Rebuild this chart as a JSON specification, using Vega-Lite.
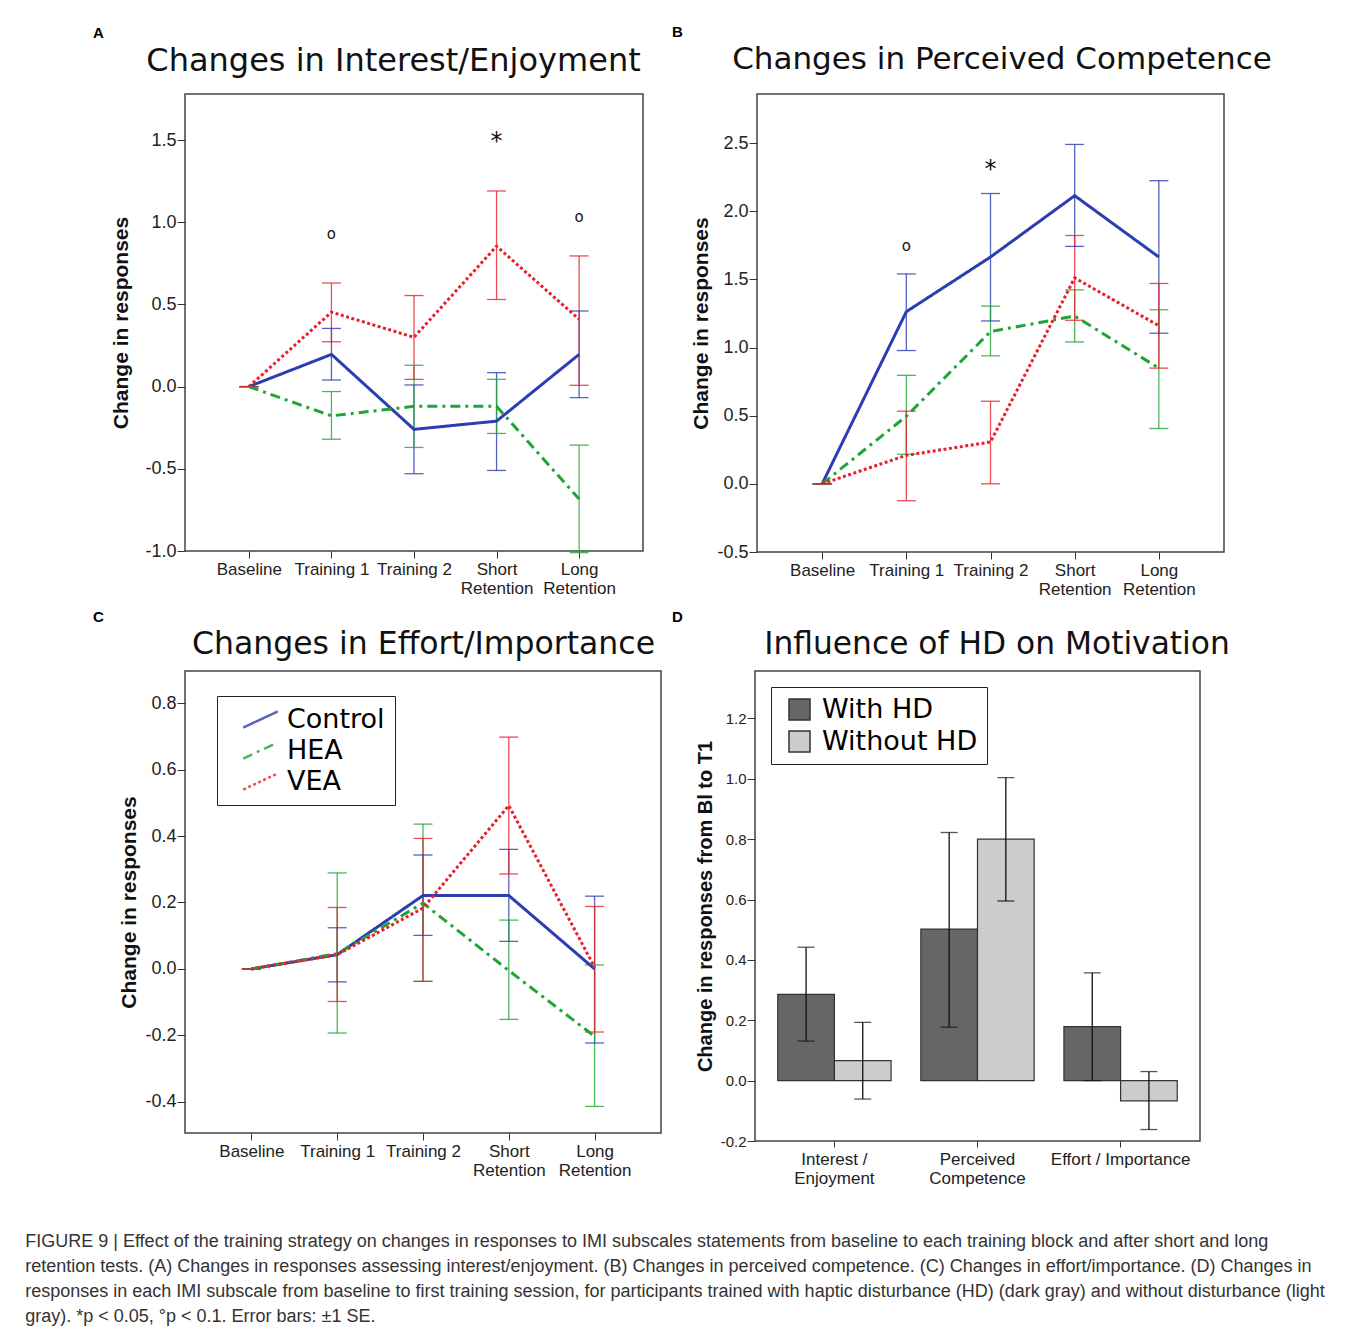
{
  "$schema": "https://vega.github.io/schema/vega-lite/v6.json",
  "background": "white",
  "padding": {"left": 25, "top": 24, "right": 10, "bottom": 10},
  "autosize": {"type": "pad"},
  "datasets": {
    "A": [
      {"stage": "Baseline", "i": 0, "group": "Control", "v": 0, "lo": 0, "hi": 0},
      {"stage": "Training 1", "i": 1, "group": "Control", "v": 0.196, "lo": 0.04, "hi": 0.354},
      {"stage": "Training 2", "i": 2, "group": "Control", "v": -0.26, "lo": -0.53, "hi": 0.01},
      {"stage": "Short Retention", "i": 3, "group": "Control", "v": -0.21, "lo": -0.51, "hi": 0.085},
      {"stage": "Long Retention", "i": 4, "group": "Control", "v": 0.196, "lo": -0.067, "hi": 0.46},
      {"stage": "Baseline", "i": 0, "group": "HEA", "v": 0, "lo": 0, "hi": 0},
      {"stage": "Training 1", "i": 1, "group": "HEA", "v": -0.178, "lo": -0.32, "hi": -0.03},
      {"stage": "Training 2", "i": 2, "group": "HEA", "v": -0.12, "lo": -0.37, "hi": 0.13},
      {"stage": "Short Retention", "i": 3, "group": "HEA", "v": -0.12, "lo": -0.285, "hi": 0.044},
      {"stage": "Long Retention", "i": 4, "group": "HEA", "v": -0.684, "lo": -1.01, "hi": -0.356},
      {"stage": "Baseline", "i": 0, "group": "VEA", "v": 0, "lo": 0, "hi": 0},
      {"stage": "Training 1", "i": 1, "group": "VEA", "v": 0.453, "lo": 0.273, "hi": 0.63},
      {"stage": "Training 2", "i": 2, "group": "VEA", "v": 0.30, "lo": 0.044, "hi": 0.554},
      {"stage": "Short Retention", "i": 3, "group": "VEA", "v": 0.854, "lo": 0.53, "hi": 1.19},
      {"stage": "Long Retention", "i": 4, "group": "VEA", "v": 0.41, "lo": 0.008, "hi": 0.795}
    ],
    "Aann": [
      {"stage": "Training 1", "y": 0.928, "sym": "o"},
      {"stage": "Short Retention", "y": 1.49, "sym": "*"},
      {"stage": "Long Retention", "y": 1.03, "sym": "o"}
    ],
    "B": [
      {"stage": "Baseline", "i": 0, "group": "Control", "v": 0, "lo": 0, "hi": 0},
      {"stage": "Training 1", "i": 1, "group": "Control", "v": 1.263, "lo": 0.978, "hi": 1.54},
      {"stage": "Training 2", "i": 2, "group": "Control", "v": 1.664, "lo": 1.195, "hi": 2.13},
      {"stage": "Short Retention", "i": 3, "group": "Control", "v": 2.114, "lo": 1.742, "hi": 2.49},
      {"stage": "Long Retention", "i": 4, "group": "Control", "v": 1.664, "lo": 1.105, "hi": 2.224},
      {"stage": "Baseline", "i": 0, "group": "HEA", "v": 0, "lo": 0, "hi": 0},
      {"stage": "Training 1", "i": 1, "group": "HEA", "v": 0.496, "lo": 0.217, "hi": 0.796},
      {"stage": "Training 2", "i": 2, "group": "HEA", "v": 1.117, "lo": 0.939, "hi": 1.304},
      {"stage": "Short Retention", "i": 3, "group": "HEA", "v": 1.231, "lo": 1.041, "hi": 1.423},
      {"stage": "Long Retention", "i": 4, "group": "HEA", "v": 0.849, "lo": 0.406, "hi": 1.277},
      {"stage": "Baseline", "i": 0, "group": "VEA", "v": 0, "lo": 0, "hi": 0},
      {"stage": "Training 1", "i": 1, "group": "VEA", "v": 0.209, "lo": -0.124, "hi": 0.533},
      {"stage": "Training 2", "i": 2, "group": "VEA", "v": 0.307, "lo": 0, "hi": 0.606},
      {"stage": "Short Retention", "i": 3, "group": "VEA", "v": 1.511, "lo": 1.2, "hi": 1.822},
      {"stage": "Long Retention", "i": 4, "group": "VEA", "v": 1.16, "lo": 0.849, "hi": 1.47}
    ],
    "Bann": [
      {"stage": "Training 1", "y": 1.745, "sym": "o"},
      {"stage": "Training 2", "y": 2.30, "sym": "*"}
    ],
    "C": [
      {"stage": "Baseline", "i": 0, "group": "Control", "v": 0, "lo": 0, "hi": 0},
      {"stage": "Training 1", "i": 1, "group": "Control", "v": 0.043, "lo": -0.039, "hi": 0.124},
      {"stage": "Training 2", "i": 2, "group": "Control", "v": 0.221, "lo": 0.101, "hi": 0.343},
      {"stage": "Short Retention", "i": 3, "group": "Control", "v": 0.221, "lo": 0.083, "hi": 0.36},
      {"stage": "Long Retention", "i": 4, "group": "Control", "v": 0, "lo": -0.223, "hi": 0.219},
      {"stage": "Baseline", "i": 0, "group": "HEA", "v": 0, "lo": 0, "hi": 0},
      {"stage": "Training 1", "i": 1, "group": "HEA", "v": 0.046, "lo": -0.193, "hi": 0.289},
      {"stage": "Training 2", "i": 2, "group": "HEA", "v": 0.198, "lo": -0.0375, "hi": 0.436},
      {"stage": "Short Retention", "i": 3, "group": "HEA", "v": -0.005, "lo": -0.152, "hi": 0.147},
      {"stage": "Long Retention", "i": 4, "group": "HEA", "v": -0.203, "lo": -0.414, "hi": 0.012},
      {"stage": "Baseline", "i": 0, "group": "VEA", "v": 0, "lo": 0, "hi": 0},
      {"stage": "Training 1", "i": 1, "group": "VEA", "v": 0.043, "lo": -0.098, "hi": 0.185},
      {"stage": "Training 2", "i": 2, "group": "VEA", "v": 0.183, "lo": -0.0375, "hi": 0.393},
      {"stage": "Short Retention", "i": 3, "group": "VEA", "v": 0.492, "lo": 0.286, "hi": 0.698},
      {"stage": "Long Retention", "i": 4, "group": "VEA", "v": 0.005, "lo": -0.19, "hi": 0.188}
    ],
    "D": [
      {"cat": "Interest / Enjoyment", "hd": "With HD", "v": 0.286, "lo": 0.131, "hi": 0.442},
      {"cat": "Interest / Enjoyment", "hd": "Without HD", "v": 0.066, "lo": -0.061, "hi": 0.193},
      {"cat": "Perceived Competence", "hd": "With HD", "v": 0.502, "lo": 0.177, "hi": 0.822},
      {"cat": "Perceived Competence", "hd": "Without HD", "v": 0.80, "lo": 0.595, "hi": 1.004},
      {"cat": "Effort / Importance", "hd": "With HD", "v": 0.179, "lo": 0.0, "hi": 0.357},
      {"cat": "Effort / Importance", "hd": "Without HD", "v": -0.067, "lo": -0.162, "hi": 0.03}
    ]
  },
  "title": {
    "text": [
      "FIGURE 9 | Effect of the training strategy on changes in responses to IMI subscales statements from baseline to each training block and after short and long",
      "retention tests. (A) Changes in responses assessing interest/enjoyment. (B) Changes in perceived competence. (C) Changes in effort/importance. (D) Changes in",
      "responses in each IMI subscale from baseline to first training session, for participants trained with haptic disturbance (HD) (dark gray) and without disturbance (light",
      "gray). *p < 0.05, °p < 0.1. Error bars: ±1 SE."
    ],
    "orient": "bottom", "anchor": "start", "frame": "bounds", "dx": -67, "offset": 46,
    "font": "Liberation Sans", "fontSize": 18, "fontWeight": "normal", "color": "#333", "lineHeight": 25
  },
  "spacing": 11,
  "align": "none",
  "resolve": {"scale": {"color": "independent", "strokeDash": "independent", "fill": "independent", "size": "independent"}},
  "vconcat": [
    {
      "bounds": "full", "align": "none", "spacing": 27,
      "resolve": {"scale": {"color": "independent", "strokeDash": "independent", "fill": "independent", "size": "independent"}},
      "hconcat": [
        {
          "width": 458, "height": 457,
          "title": {"text": "A", "anchor": "start", "frame": "group", "dx": -92, "fontSize": 15, "fontWeight": "bold", "offset": 3, "color": "#000"},
          "resolve": {"axis": {"x": "independent"}},
          "layer": [
            {
              "data": {"name": "A"},
              "mark": {"type": "rule", "strokeWidth": 1.3, "opacity": 0.8},
              "encoding": {
                "x": {"field": "stage", "type": "ordinal", "scale": {"type": "point", "domain": ["Baseline", "Training 1", "Training 2", "Short Retention", "Long Retention"], "padding": 0.774}, "axis": null},
                "y": {"field": "lo", "type": "quantitative", "scale": {"domain": [-1.0, 1.78], "nice": false, "zero": false},
                  "axis": {"title": "Change in responses", "titleFontSize": 21, "titleFontWeight": "bold", "titlePadding": 13, "values": [-1, -0.5, 0, 0.5, 1, 1.5], "format": ".1f", "labelFontSize": 18, "labelPadding": 1, "tickSize": 8}},
                "y2": {"field": "hi"},
                "color": {"field": "group", "type": "nominal", "scale": {"domain": ["Control", "HEA", "VEA"], "range": ["#2c3db2", "#1fa533", "#e8202a"]}, "legend": null}
              }
            },
            {
              "data": {"name": "A"},
              "mark": {"type": "tick", "orient": "horizontal", "size": 19, "thickness": 1.3, "opacity": 0.8},
              "encoding": {
                "x": {"field": "stage", "type": "ordinal", "scale": {"type": "point", "domain": ["Baseline", "Training 1", "Training 2", "Short Retention", "Long Retention"], "padding": 0.774}, "axis": null},
                "y": {"field": "lo", "type": "quantitative", "scale": {"domain": [-1.0, 1.78], "nice": false, "zero": false},
                  "axis": {"title": "Change in responses", "titleFontSize": 21, "titleFontWeight": "bold", "titlePadding": 13, "values": [-1, -0.5, 0, 0.5, 1, 1.5], "format": ".1f", "labelFontSize": 18, "labelPadding": 1, "tickSize": 8}},
                "color": {"field": "group", "type": "nominal", "scale": {"domain": ["Control", "HEA", "VEA"], "range": ["#2c3db2", "#1fa533", "#e8202a"]}, "legend": null}
              }
            },
            {
              "data": {"name": "A"},
              "mark": {"type": "tick", "orient": "horizontal", "size": 19, "thickness": 1.3, "opacity": 0.8},
              "encoding": {
                "x": {"field": "stage", "type": "ordinal", "scale": {"type": "point", "domain": ["Baseline", "Training 1", "Training 2", "Short Retention", "Long Retention"], "padding": 0.774}, "axis": null},
                "y": {"field": "hi", "type": "quantitative", "scale": {"domain": [-1.0, 1.78], "nice": false, "zero": false},
                  "axis": {"title": "Change in responses", "titleFontSize": 21, "titleFontWeight": "bold", "titlePadding": 13, "values": [-1, -0.5, 0, 0.5, 1, 1.5], "format": ".1f", "labelFontSize": 18, "labelPadding": 1, "tickSize": 8}},
                "color": {"field": "group", "type": "nominal", "scale": {"domain": ["Control", "HEA", "VEA"], "range": ["#2c3db2", "#1fa533", "#e8202a"]}, "legend": null}
              }
            },
            {
              "data": {"name": "A"},
              "mark": {"type": "line", "strokeWidth": 3},
              "encoding": {
                "x": {"field": "stage", "type": "ordinal", "scale": {"type": "point", "domain": ["Baseline", "Training 1", "Training 2", "Short Retention", "Long Retention"], "padding": 0.774},
                  "axis": {"orient": "bottom", "title": null, "labelAngle": 0, "labelFontSize": 17, "labelPadding": 3, "tickSize": 7, "labelLineHeight": 19,
                    "labelExpr": "datum.value == 'Short Retention' ? ['Short', 'Retention'] : datum.value == 'Long Retention' ? ['Long', 'Retention'] : datum.value"}},
                "y": {"field": "v", "type": "quantitative", "scale": {"domain": [-1.0, 1.78], "nice": false, "zero": false},
                  "axis": {"title": "Change in responses", "titleFontSize": 21, "titleFontWeight": "bold", "titlePadding": 13, "values": [-1, -0.5, 0, 0.5, 1, 1.5], "format": ".1f", "labelFontSize": 18, "labelPadding": 1, "tickSize": 8}},
                "color": {"field": "group", "type": "nominal", "scale": {"domain": ["Control", "HEA", "VEA"], "range": ["#2c3db2", "#1fa533", "#e8202a"]}, "legend": null},
                "strokeDash": {"field": "group", "type": "nominal", "scale": {"domain": ["Control", "HEA", "VEA"], "range": [[1, 0], [10, 5, 3, 5], [3, 2.5]]}, "legend": null},
                "order": {"field": "i"}
              }
            },
            {
              "data": {"name": "Aann"},
              "mark": {"type": "text", "font": "DejaVu Sans", "color": "#111", "baseline": "middle"},
              "encoding": {
                "x": {"field": "stage", "type": "ordinal", "scale": {"type": "point", "domain": ["Baseline", "Training 1", "Training 2", "Short Retention", "Long Retention"], "padding": 0.774},
                  "axis": {"orient": "top", "labels": false, "ticks": false, "domain": false, "title": "Changes in Interest/Enjoyment", "titleFont": "DejaVu Sans", "titleFontSize": 32, "titleFontWeight": "normal", "titlePadding": 17, "titleColor": "#111", "titleX": 208}},
                "y": {"field": "y", "type": "quantitative", "scale": {"domain": [-1.0, 1.78], "nice": false, "zero": false},
                  "axis": {"title": "Change in responses", "titleFontSize": 21, "titleFontWeight": "bold", "titlePadding": 13, "values": [-1, -0.5, 0, 0.5, 1, 1.5], "format": ".1f", "labelFontSize": 18, "labelPadding": 1, "tickSize": 8}},
                "text": {"field": "sym"},
                "size": {"field": "sym", "type": "ordinal", "scale": {"domain": ["o", "*"], "range": [15, 24]}, "legend": null}
              }
            }
          ]
        },
        {
          "width": 467, "height": 458,
          "title": {"text": "B", "anchor": "start", "frame": "group", "dx": -85, "fontSize": 15, "fontWeight": "bold", "offset": 3, "color": "#000"},
          "resolve": {"axis": {"x": "independent"}},
          "layer": [
            {
              "data": {"name": "B"},
              "mark": {"type": "rule", "strokeWidth": 1.3, "opacity": 0.8},
              "encoding": {
                "x": {"field": "stage", "type": "ordinal", "scale": {"type": "point", "domain": ["Baseline", "Training 1", "Training 2", "Short Retention", "Long Retention"], "padding": 0.774}, "axis": null},
                "y": {"field": "lo", "type": "quantitative", "scale": {"domain": [-0.5, 2.86], "nice": false, "zero": false},
                  "axis": {"title": "Change in responses", "titleFontSize": 21, "titleFontWeight": "bold", "titlePadding": 5, "values": [-0.5, 0, 0.5, 1, 1.5, 2, 2.5], "format": ".1f", "labelFontSize": 18, "labelPadding": 1, "tickSize": 8}},
                "y2": {"field": "hi"},
                "color": {"field": "group", "type": "nominal", "scale": {"domain": ["Control", "HEA", "VEA"], "range": ["#2c3db2", "#1fa533", "#e8202a"]}, "legend": null}
              }
            },
            {
              "data": {"name": "B"},
              "mark": {"type": "tick", "orient": "horizontal", "size": 19, "thickness": 1.3, "opacity": 0.8},
              "encoding": {
                "x": {"field": "stage", "type": "ordinal", "scale": {"type": "point", "domain": ["Baseline", "Training 1", "Training 2", "Short Retention", "Long Retention"], "padding": 0.774}, "axis": null},
                "y": {"field": "lo", "type": "quantitative", "scale": {"domain": [-0.5, 2.86], "nice": false, "zero": false},
                  "axis": {"title": "Change in responses", "titleFontSize": 21, "titleFontWeight": "bold", "titlePadding": 5, "values": [-0.5, 0, 0.5, 1, 1.5, 2, 2.5], "format": ".1f", "labelFontSize": 18, "labelPadding": 1, "tickSize": 8}},
                "color": {"field": "group", "type": "nominal", "scale": {"domain": ["Control", "HEA", "VEA"], "range": ["#2c3db2", "#1fa533", "#e8202a"]}, "legend": null}
              }
            },
            {
              "data": {"name": "B"},
              "mark": {"type": "tick", "orient": "horizontal", "size": 19, "thickness": 1.3, "opacity": 0.8},
              "encoding": {
                "x": {"field": "stage", "type": "ordinal", "scale": {"type": "point", "domain": ["Baseline", "Training 1", "Training 2", "Short Retention", "Long Retention"], "padding": 0.774}, "axis": null},
                "y": {"field": "hi", "type": "quantitative", "scale": {"domain": [-0.5, 2.86], "nice": false, "zero": false},
                  "axis": {"title": "Change in responses", "titleFontSize": 21, "titleFontWeight": "bold", "titlePadding": 5, "values": [-0.5, 0, 0.5, 1, 1.5, 2, 2.5], "format": ".1f", "labelFontSize": 18, "labelPadding": 1, "tickSize": 8}},
                "color": {"field": "group", "type": "nominal", "scale": {"domain": ["Control", "HEA", "VEA"], "range": ["#2c3db2", "#1fa533", "#e8202a"]}, "legend": null}
              }
            },
            {
              "data": {"name": "B"},
              "mark": {"type": "line", "strokeWidth": 3},
              "encoding": {
                "x": {"field": "stage", "type": "ordinal", "scale": {"type": "point", "domain": ["Baseline", "Training 1", "Training 2", "Short Retention", "Long Retention"], "padding": 0.774},
                  "axis": {"orient": "bottom", "title": null, "labelAngle": 0, "labelFontSize": 17, "labelPadding": 3, "tickSize": 7, "labelLineHeight": 19,
                    "labelExpr": "datum.value == 'Short Retention' ? ['Short', 'Retention'] : datum.value == 'Long Retention' ? ['Long', 'Retention'] : datum.value"}},
                "y": {"field": "v", "type": "quantitative", "scale": {"domain": [-0.5, 2.86], "nice": false, "zero": false},
                  "axis": {"title": "Change in responses", "titleFontSize": 21, "titleFontWeight": "bold", "titlePadding": 5, "values": [-0.5, 0, 0.5, 1, 1.5, 2, 2.5], "format": ".1f", "labelFontSize": 18, "labelPadding": 1, "tickSize": 8}},
                "color": {"field": "group", "type": "nominal", "scale": {"domain": ["Control", "HEA", "VEA"], "range": ["#2c3db2", "#1fa533", "#e8202a"]}, "legend": null},
                "strokeDash": {"field": "group", "type": "nominal", "scale": {"domain": ["Control", "HEA", "VEA"], "range": [[1, 0], [10, 5, 3, 5], [3, 2.5]]}, "legend": null},
                "order": {"field": "i"}
              }
            },
            {
              "data": {"name": "Bann"},
              "mark": {"type": "text", "font": "DejaVu Sans", "color": "#111", "baseline": "middle"},
              "encoding": {
                "x": {"field": "stage", "type": "ordinal", "scale": {"type": "point", "domain": ["Baseline", "Training 1", "Training 2", "Short Retention", "Long Retention"], "padding": 0.774},
                  "axis": {"orient": "top", "labels": false, "ticks": false, "domain": false, "title": "Changes in Perceived Competence", "titleFont": "DejaVu Sans", "titleFontSize": 31, "titleFontWeight": "normal", "titlePadding": 19, "titleColor": "#111", "titleX": 244.5}},
                "y": {"field": "y", "type": "quantitative", "scale": {"domain": [-0.5, 2.86], "nice": false, "zero": false},
                  "axis": {"title": "Change in responses", "titleFontSize": 21, "titleFontWeight": "bold", "titlePadding": 5, "values": [-0.5, 0, 0.5, 1, 1.5, 2, 2.5], "format": ".1f", "labelFontSize": 18, "labelPadding": 1, "tickSize": 8}},
                "text": {"field": "sym"},
                "size": {"field": "sym", "type": "ordinal", "scale": {"domain": ["o", "*"], "range": [15, 24]}, "legend": null}
              }
            }
          ]
        }
      ]
    },
    {
      "bounds": "full", "align": "none", "spacing": 9,
      "resolve": {"scale": {"color": "independent", "strokeDash": "independent", "fill": "independent", "size": "independent"}},
      "hconcat": [
        {
          "width": 476, "height": 462,
          "title": {"text": "C", "anchor": "start", "frame": "group", "dx": -92, "fontSize": 15, "fontWeight": "bold", "offset": 3, "color": "#000"},
          "resolve": {"axis": {"x": "independent"}},
          "layer": [
            {
              "data": {"name": "C"},
              "mark": {"type": "rule", "strokeWidth": 1.3, "opacity": 0.8},
              "encoding": {
                "x": {"field": "stage", "type": "ordinal", "scale": {"type": "point", "domain": ["Baseline", "Training 1", "Training 2", "Short Retention", "Long Retention"], "padding": 0.774}, "axis": null},
                "y": {"field": "lo", "type": "quantitative", "scale": {"domain": [-0.494, 0.897], "nice": false, "zero": false},
                  "axis": {"title": "Change in responses", "titleFontSize": 21, "titleFontWeight": "bold", "titlePadding": 5, "values": [-0.4, -0.2, 0, 0.2, 0.4, 0.6, 0.8], "format": ".1f", "labelFontSize": 18, "labelPadding": 1, "tickSize": 8}},
                "y2": {"field": "hi"},
                "color": {"field": "group", "type": "nominal", "scale": {"domain": ["Control", "HEA", "VEA"], "range": ["#2c3db2", "#1fa533", "#e8202a"]},
                  "legend": {"orient": "none", "legendX": 32, "legendY": 25, "title": null, "strokeColor": "#222", "padding": 10, "fillColor": "white",
                    "symbolType": "M-1.5,0.7L1.5,-0.7", "symbolSize": 529, "symbolStrokeWidth": 2.5, "symbolOffset": 20, "labelOffset": 13,
                    "labelFont": "DejaVu Sans", "labelFontSize": 27, "labelColor": "#000", "rowPadding": 3}}
              }
            },
            {
              "data": {"name": "C"},
              "mark": {"type": "tick", "orient": "horizontal", "size": 19, "thickness": 1.3, "opacity": 0.8},
              "encoding": {
                "x": {"field": "stage", "type": "ordinal", "scale": {"type": "point", "domain": ["Baseline", "Training 1", "Training 2", "Short Retention", "Long Retention"], "padding": 0.774}, "axis": null},
                "y": {"field": "lo", "type": "quantitative", "scale": {"domain": [-0.494, 0.897], "nice": false, "zero": false},
                  "axis": {"title": "Change in responses", "titleFontSize": 21, "titleFontWeight": "bold", "titlePadding": 5, "values": [-0.4, -0.2, 0, 0.2, 0.4, 0.6, 0.8], "format": ".1f", "labelFontSize": 18, "labelPadding": 1, "tickSize": 8}},
                "color": {"field": "group", "type": "nominal", "scale": {"domain": ["Control", "HEA", "VEA"], "range": ["#2c3db2", "#1fa533", "#e8202a"]},
                  "legend": {"orient": "none", "legendX": 32, "legendY": 25, "title": null, "strokeColor": "#222", "padding": 10, "fillColor": "white",
                    "symbolType": "M-1.5,0.7L1.5,-0.7", "symbolSize": 529, "symbolStrokeWidth": 2.5, "symbolOffset": 20, "labelOffset": 13,
                    "labelFont": "DejaVu Sans", "labelFontSize": 27, "labelColor": "#000", "rowPadding": 3}}
              }
            },
            {
              "data": {"name": "C"},
              "mark": {"type": "tick", "orient": "horizontal", "size": 19, "thickness": 1.3, "opacity": 0.8},
              "encoding": {
                "x": {"field": "stage", "type": "ordinal", "scale": {"type": "point", "domain": ["Baseline", "Training 1", "Training 2", "Short Retention", "Long Retention"], "padding": 0.774}, "axis": null},
                "y": {"field": "hi", "type": "quantitative", "scale": {"domain": [-0.494, 0.897], "nice": false, "zero": false},
                  "axis": {"title": "Change in responses", "titleFontSize": 21, "titleFontWeight": "bold", "titlePadding": 5, "values": [-0.4, -0.2, 0, 0.2, 0.4, 0.6, 0.8], "format": ".1f", "labelFontSize": 18, "labelPadding": 1, "tickSize": 8}},
                "color": {"field": "group", "type": "nominal", "scale": {"domain": ["Control", "HEA", "VEA"], "range": ["#2c3db2", "#1fa533", "#e8202a"]},
                  "legend": {"orient": "none", "legendX": 32, "legendY": 25, "title": null, "strokeColor": "#222", "padding": 10, "fillColor": "white",
                    "symbolType": "M-1.5,0.7L1.5,-0.7", "symbolSize": 529, "symbolStrokeWidth": 2.5, "symbolOffset": 20, "labelOffset": 13,
                    "labelFont": "DejaVu Sans", "labelFontSize": 27, "labelColor": "#000", "rowPadding": 3}}
              }
            },
            {
              "data": {"name": "C"},
              "mark": {"type": "line", "strokeWidth": 3},
              "encoding": {
                "x": {"field": "stage", "type": "ordinal", "scale": {"type": "point", "domain": ["Baseline", "Training 1", "Training 2", "Short Retention", "Long Retention"], "padding": 0.774},
                  "axis": {"orient": "bottom", "title": null, "labelAngle": 0, "labelFontSize": 17, "labelPadding": 3, "tickSize": 7, "labelLineHeight": 19,
                    "labelExpr": "datum.value == 'Short Retention' ? ['Short', 'Retention'] : datum.value == 'Long Retention' ? ['Long', 'Retention'] : datum.value"}},
                "y": {"field": "v", "type": "quantitative", "scale": {"domain": [-0.494, 0.897], "nice": false, "zero": false},
                  "axis": {"title": "Change in responses", "titleFontSize": 21, "titleFontWeight": "bold", "titlePadding": 5, "values": [-0.4, -0.2, 0, 0.2, 0.4, 0.6, 0.8], "format": ".1f", "labelFontSize": 18, "labelPadding": 1, "tickSize": 8}},
                "color": {"field": "group", "type": "nominal", "scale": {"domain": ["Control", "HEA", "VEA"], "range": ["#2c3db2", "#1fa533", "#e8202a"]},
                  "legend": {"orient": "none", "legendX": 32, "legendY": 25, "title": null, "strokeColor": "#222", "padding": 10, "fillColor": "white",
                    "symbolType": "M-1.5,0.7L1.5,-0.7", "symbolSize": 529, "symbolStrokeWidth": 2.5, "symbolOffset": 20, "labelOffset": 13,
                    "labelFont": "DejaVu Sans", "labelFontSize": 27, "labelColor": "#000", "rowPadding": 3}},
                "strokeDash": {"field": "group", "type": "nominal", "scale": {"domain": ["Control", "HEA", "VEA"], "range": [[1, 0], [10, 5, 3, 5], [3, 2.5]]},
                  "legend": {"orient": "none", "legendX": 32, "legendY": 25, "title": null, "strokeColor": "#222", "padding": 10, "fillColor": "white",
                    "symbolType": "M-1.5,0.7L1.5,-0.7", "symbolSize": 529, "symbolStrokeWidth": 2.5, "symbolOffset": 20, "labelOffset": 13,
                    "labelFont": "DejaVu Sans", "labelFontSize": 27, "labelColor": "#000", "rowPadding": 3}},
                "order": {"field": "i"}
              }
            },
            {
              "data": {"name": "C"},
              "mark": {"type": "point", "opacity": 0},
              "encoding": {
                "x": {"field": "stage", "type": "ordinal", "scale": {"type": "point", "domain": ["Baseline", "Training 1", "Training 2", "Short Retention", "Long Retention"], "padding": 0.774},
                  "axis": {"orient": "top", "labels": false, "ticks": false, "domain": false, "title": "Changes in Effort/Importance", "titleFont": "DejaVu Sans", "titleFontSize": 31.5, "titleFontWeight": "normal", "titlePadding": 11, "titleColor": "#111", "titleX": 238}},
                "y": {"field": "v", "type": "quantitative", "scale": {"domain": [-0.494, 0.897], "nice": false, "zero": false},
                  "axis": {"title": "Change in responses", "titleFontSize": 21, "titleFontWeight": "bold", "titlePadding": 5, "values": [-0.4, -0.2, 0, 0.2, 0.4, 0.6, 0.8], "format": ".1f", "labelFontSize": 18, "labelPadding": 1, "tickSize": 8}}
              }
            }
          ]
        },
        {
          "width": 445, "height": 470,
          "title": {"text": "D", "anchor": "start", "frame": "group", "dx": -83, "fontSize": 15, "fontWeight": "bold", "offset": 3, "color": "#000"},
          "resolve": {"axis": {"x": "independent"}},
          "layer": [
            {
              "data": {"name": "D"},
              "mark": {"type": "bar", "stroke": "#333", "strokeWidth": 1.2},
              "encoding": {
                "x": {"field": "cat", "type": "nominal", "scale": {"type": "band", "domain": ["Interest / Enjoyment", "Perceived Competence", "Effort / Importance"], "paddingInner": 0.208, "paddingOuter": 0.159},
                  "axis": {"orient": "bottom", "title": null, "labelAngle": 0, "labelFontSize": 17, "labelPadding": 4, "tickSize": 6, "labelLineHeight": 19,
                    "labelExpr": "datum.value == 'Interest / Enjoyment' ? ['Interest /', 'Enjoyment'] : datum.value == 'Perceived Competence' ? ['Perceived', 'Competence'] : datum.value"}},
                "xOffset": {"field": "hd", "type": "nominal", "scale": {"domain": ["With HD", "Without HD"], "paddingInner": 0, "paddingOuter": 0}},
                "y": {"field": "v", "type": "quantitative", "scale": {"domain": [-0.2, 1.357], "nice": false, "zero": false},
                  "axis": {"title": "Change in responses from Bl to T1", "titleFontSize": 20, "titleFontWeight": "bold", "titlePadding": 5, "values": [-0.2, 0, 0.2, 0.4, 0.6, 0.8, 1.0, 1.2], "format": ".1f", "labelFontSize": 15, "labelPadding": 1, "tickSize": 8}},
                "fill": {"field": "hd", "type": "nominal", "scale": {"domain": ["With HD", "Without HD"], "range": ["#666666", "#cccccc"]},
                  "legend": {"orient": "none", "legendX": 16, "legendY": 16, "title": null, "strokeColor": "#222", "padding": 9, "fillColor": "white",
                    "symbolType": "square", "symbolSize": 441, "symbolStrokeColor": "#333", "symbolStrokeWidth": 1.5, "symbolOffset": 6, "labelOffset": 9,
                    "labelFont": "DejaVu Sans", "labelFontSize": 27, "labelColor": "#000", "rowPadding": 4}}
              }
            },
            {
              "data": {"name": "D"},
              "mark": {"type": "rule", "strokeWidth": 1.3, "color": "#111"},
              "encoding": {
                "x": {"field": "cat", "type": "nominal", "scale": {"type": "band", "domain": ["Interest / Enjoyment", "Perceived Competence", "Effort / Importance"], "paddingInner": 0.208, "paddingOuter": 0.159},
                  "axis": {"orient": "top", "labels": false, "ticks": false, "domain": false, "title": "Influence of HD on Motivation", "titleFont": "DejaVu Sans", "titleFontSize": 31.3, "titleFontWeight": "normal", "titlePadding": 11, "titleColor": "#111", "titleX": 241.5}},
                "xOffset": {"field": "hd", "type": "nominal", "scale": {"domain": ["With HD", "Without HD"], "paddingInner": 0, "paddingOuter": 0}},
                "y": {"field": "lo", "type": "quantitative", "scale": {"domain": [-0.2, 1.357], "nice": false, "zero": false},
                  "axis": {"title": "Change in responses from Bl to T1", "titleFontSize": 20, "titleFontWeight": "bold", "titlePadding": 5, "values": [-0.2, 0, 0.2, 0.4, 0.6, 0.8, 1.0, 1.2], "format": ".1f", "labelFontSize": 15, "labelPadding": 1, "tickSize": 8}},
                "y2": {"field": "hi"}
              }
            },
            {
              "data": {"name": "D"},
              "mark": {"type": "tick", "orient": "horizontal", "size": 17, "thickness": 1.3, "color": "#111"},
              "encoding": {
                "x": {"field": "cat", "type": "nominal", "scale": {"type": "band", "domain": ["Interest / Enjoyment", "Perceived Competence", "Effort / Importance"], "paddingInner": 0.208, "paddingOuter": 0.159}, "axis": null},
                "xOffset": {"field": "hd", "type": "nominal", "scale": {"domain": ["With HD", "Without HD"], "paddingInner": 0, "paddingOuter": 0}},
                "y": {"field": "lo", "type": "quantitative", "scale": {"domain": [-0.2, 1.357], "nice": false, "zero": false},
                  "axis": {"title": "Change in responses from Bl to T1", "titleFontSize": 20, "titleFontWeight": "bold", "titlePadding": 5, "values": [-0.2, 0, 0.2, 0.4, 0.6, 0.8, 1.0, 1.2], "format": ".1f", "labelFontSize": 15, "labelPadding": 1, "tickSize": 8}}
              }
            },
            {
              "data": {"name": "D"},
              "mark": {"type": "tick", "orient": "horizontal", "size": 17, "thickness": 1.3, "color": "#111"},
              "encoding": {
                "x": {"field": "cat", "type": "nominal", "scale": {"type": "band", "domain": ["Interest / Enjoyment", "Perceived Competence", "Effort / Importance"], "paddingInner": 0.208, "paddingOuter": 0.159}, "axis": null},
                "xOffset": {"field": "hd", "type": "nominal", "scale": {"domain": ["With HD", "Without HD"], "paddingInner": 0, "paddingOuter": 0}},
                "y": {"field": "hi", "type": "quantitative", "scale": {"domain": [-0.2, 1.357], "nice": false, "zero": false},
                  "axis": {"title": "Change in responses from Bl to T1", "titleFontSize": 20, "titleFontWeight": "bold", "titlePadding": 5, "values": [-0.2, 0, 0.2, 0.4, 0.6, 0.8, 1.0, 1.2], "format": ".1f", "labelFontSize": 15, "labelPadding": 1, "tickSize": 8}}
              }
            }
          ]
        }
      ]
    }
  ],
  "config": {
    "font": "Liberation Sans",
    "locale": {"number": {"decimal": ".", "thousands": ",", "grouping": [3], "currency": ["$", ""], "minus": "-"}},
    "view": {"stroke": "#444", "strokeWidth": 1.5},
    "axis": {"grid": false, "domain": false, "tickColor": "#333", "labelColor": "#222", "titleColor": "#111", "labelFont": "Liberation Sans", "titleFont": "Liberation Sans"},
    "title": {"font": "Liberation Sans", "color": "#111"}
  }
}
